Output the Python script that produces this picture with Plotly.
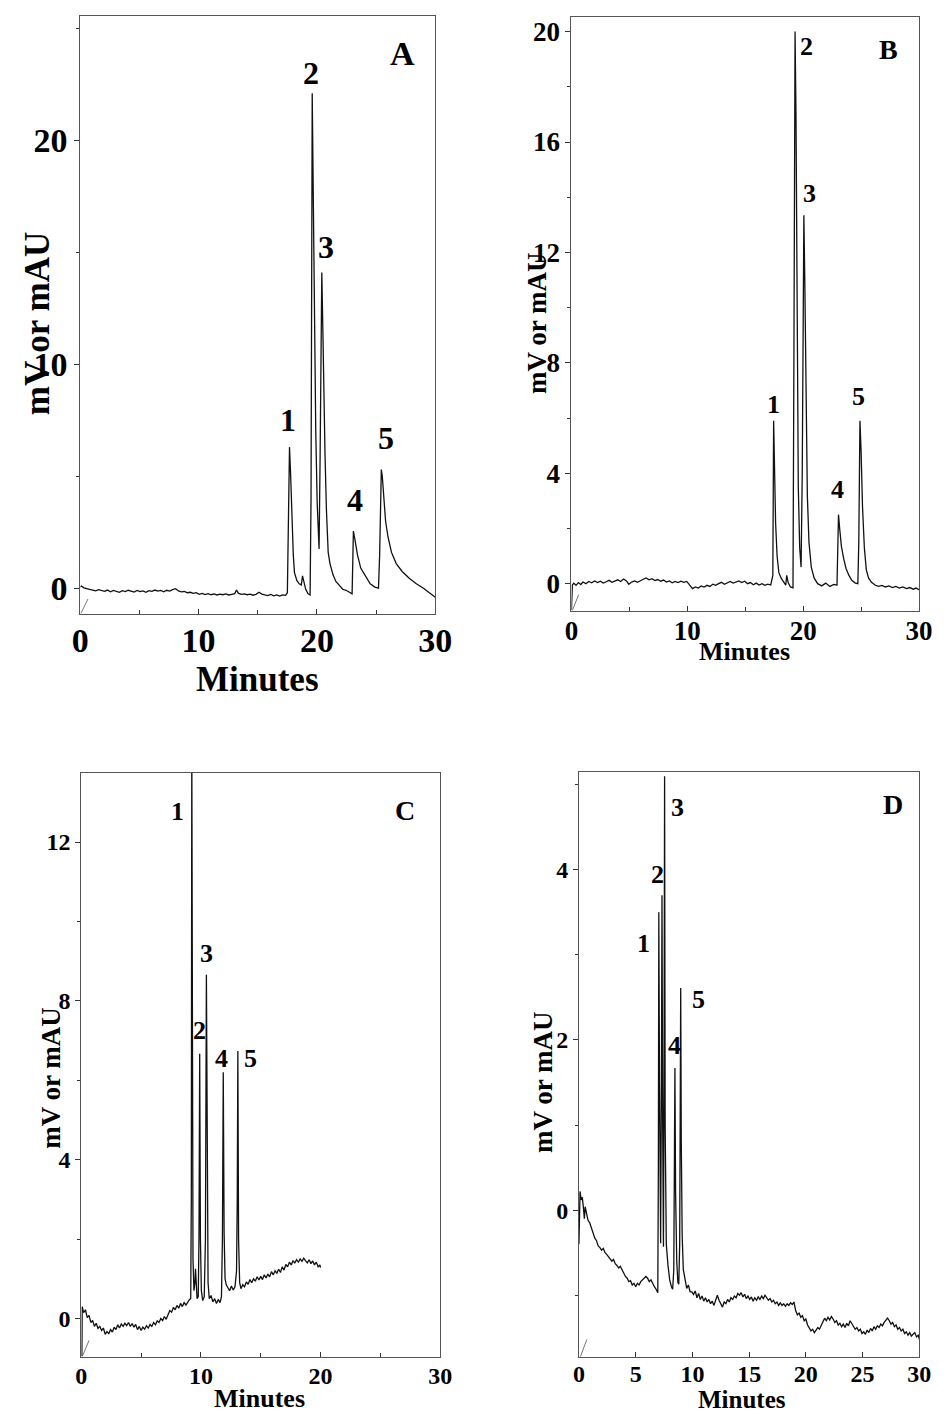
import plotly.graph_objects as go

# ------------------------------------------------------------------
# DATA
# ------------------------------------------------------------------
# Panel A
A_base_time = [0.0, 0.1, 0.3, 0.55, 0.8, 1.05, 1.3, 1.55, 1.8, 2.05,
               2.3, 2.55, 2.8, 3.05, 3.3, 3.55, 3.8, 4.05, 4.3, 4.55,
               4.8, 5.05, 5.3, 5.55, 5.8, 6.05, 6.3, 6.55, 6.8, 7.05,
               7.3, 7.55, 7.8, 8.05, 8.3, 8.55, 8.8, 9.05, 9.3, 9.55,
               9.8, 10.05, 10.3, 10.55, 10.8, 11.05, 11.3, 11.55, 11.8, 12.05,
               12.3, 12.55, 12.8, 13.05, 13.2, 13.35, 13.6, 13.85, 14.1, 14.35,
               14.6, 14.85, 15.1, 15.35, 15.6, 15.85, 16.1, 16.35, 16.6, 16.85,
               17.1, 17.35]
A_base_signal = [0.05, 0.1, 0.02, 0.0, -0.05, -0.08, -0.12, -0.06, -0.1, -0.14,
                 -0.08, -0.16, -0.1, -0.13, -0.18, -0.11, -0.15, -0.09, -0.14, -0.17,
                 -0.1, -0.15, -0.12, -0.18, -0.11, -0.14, -0.08, -0.13, -0.1, -0.16,
                 -0.09, -0.13, -0.06, -0.02, -0.12, -0.16, -0.14, -0.2, -0.18, -0.23,
                 -0.2, -0.27, -0.23, -0.28, -0.24, -0.29, -0.25, -0.3, -0.26, -0.29,
                 -0.25, -0.3, -0.27, -0.24, -0.08, -0.22, -0.27, -0.25, -0.29, -0.26,
                 -0.31, -0.27, -0.18, -0.26, -0.3, -0.33, -0.28, -0.34, -0.3, -0.35,
                 -0.3, -0.32]
A_peak_time = [17.5, 17.6, 17.68, 17.78, 17.88, 18.0, 18.1, 18.3, 18.5, 18.68,
               18.78, 18.9, 19.05, 19.25, 19.42, 19.5, 19.55, 19.6, 19.7, 19.8,
               19.9, 20.02, 20.18, 20.27, 20.35, 20.41, 20.5, 20.6, 20.68, 20.8,
               20.95, 21.1, 21.36, 21.6, 21.9, 22.2, 22.5, 22.8, 22.97, 23.03,
               23.08, 23.2, 23.42, 23.7, 24.1, 24.5, 24.9, 25.2, 25.3, 25.38,
               25.44, 25.52, 25.65, 25.8, 26.0, 26.3, 26.7, 27.2, 27.8, 28.4,
               29.0, 29.5, 30.0]
A_peak_signal = [-0.2, 3.5, 6.3, 5.0, 3.0, 1.5, 0.7, 0.35, 0.2, 0.15,
                 0.55, 0.3, -0.05, -0.25, -0.3, 4.0, 14.0, 22.1, 17.0, 11.5,
                 7.0, 3.8, 1.75, 6.0, 12.0, 14.1, 11.5, 8.0, 6.0, 3.5,
                 1.6, 1.1, 0.6, 0.3, 0.1, -0.05, -0.1, -0.2, -0.25, 1.2,
                 2.55, 2.2, 1.5, 0.9, 0.55, 0.2, 0.05, 0.0, 1.5, 4.5,
                 5.3, 5.0, 4.0, 3.0, 2.3, 1.6, 1.1, 0.75, 0.45, 0.2,
                 0.0, -0.2, -0.4]
A_mark_time = [0.05, 0.65]
A_mark_signal = [-1.12, -0.48]

# Panel B
B_base_time = [0.0, 0.08, 0.2, 0.4, 0.6, 0.8, 1.0, 1.25, 1.5, 1.75,
               2.0, 2.25, 2.5, 2.75, 3.0, 3.25, 3.5, 3.75, 4.0, 4.25,
               4.5, 4.75, 4.95, 5.2, 5.45, 5.7, 5.95, 6.2, 6.45, 6.7,
               6.95, 7.2, 7.45, 7.7, 7.95, 8.2, 8.45, 8.7, 8.95, 9.2,
               9.45, 9.7, 9.95, 10.2, 10.45, 10.7, 10.95, 11.2, 11.45, 11.7,
               11.95, 12.2, 12.45, 12.7, 12.95, 13.2, 13.45, 13.7, 13.95, 14.2,
               14.45, 14.7, 14.95, 15.2, 15.45, 15.7, 15.95, 16.2, 16.45, 16.7,
               16.95, 17.2]
B_base_signal = [-0.95, -0.05, 0.02, -0.06, 0.04, -0.03, 0.06, 0.0, 0.08, 0.03,
                 0.1, 0.04, 0.09, 0.02, 0.07, 0.12, 0.05, 0.1, 0.14, 0.08,
                 0.17, 0.1, -0.02, 0.06, 0.1, 0.05, 0.12, 0.16, 0.21, 0.14,
                 0.18, 0.11, 0.15, 0.09, 0.13, 0.06, 0.1, 0.03, 0.08, 0.04,
                 0.09, 0.05, 0.08, -0.05, -0.18, -0.12, -0.16, -0.08, -0.12, -0.06,
                 -0.1, -0.02, -0.06, 0.0, 0.05, -0.02, 0.04, 0.08, 0.02, 0.07,
                 0.1, 0.04, 0.09, 0.0, 0.04, -0.04, 0.02, -0.05, 0.0, -0.06,
                 -0.02, -0.05]
B_peak_time = [17.38, 17.45, 17.52, 17.62, 17.75, 17.9, 18.1, 18.35, 18.5, 18.58,
               18.7, 18.9, 19.12, 19.2, 19.3, 19.38, 19.47, 19.58, 19.7, 19.82,
               19.92, 20.0, 20.06, 20.14, 20.24, 20.36, 20.5, 20.7, 20.95, 21.25,
               21.6, 21.95, 22.3, 22.65, 22.92, 22.98, 23.05, 23.15, 23.3, 23.5,
               23.7, 23.95, 24.2, 24.5, 24.72, 24.8, 24.9, 25.0, 25.12, 25.28,
               25.45, 25.65, 25.9, 26.2, 26.5, 26.8, 27.1, 27.4, 27.7, 28.0,
               28.3, 28.6, 28.9, 29.2, 29.5, 29.75, 30.0]
B_peak_signal = [0.3, 5.9, 4.2, 2.2, 1.0, 0.4, 0.2, 0.05, -0.05, 0.3,
                 0.05, -0.12, -0.15, 8.0, 20.0, 17.0, 9.5, 3.5, 1.3, 0.6,
                 4.0, 11.0, 13.35, 11.0, 6.5, 3.2, 1.5, 0.6, 0.2, 0.0,
                 -0.08, 0.02, -0.1, -0.03, -0.05, 1.0, 2.5, 2.0, 1.35, 0.9,
                 0.55, 0.3, 0.12, 0.02, 0.0, 1.5, 5.9, 4.8, 2.8, 1.3,
                 0.5, 0.2, 0.05, -0.05, -0.1, -0.06, -0.12, -0.08, -0.14, -0.1,
                 -0.16, -0.12, -0.18, -0.14, -0.2, -0.16, -0.22]
B_mark_time = [0.08, 0.62]
B_mark_signal = [-0.97, -0.4]

# Panel C
C_base_time = [0.05, 0.08, 0.2, 0.35, 0.5, 0.65, 0.8, 0.95, 1.1, 1.25,
               1.4, 1.55, 1.7, 1.85, 2.0, 2.15, 2.3, 2.45, 2.6, 2.75,
               2.9, 3.05, 3.2, 3.35, 3.5, 3.65, 3.8, 3.95, 4.1, 4.25,
               4.4, 4.55, 4.7, 4.85, 5.0, 5.15, 5.3, 5.45, 5.6, 5.75,
               5.9, 6.05, 6.2, 6.35, 6.5, 6.65, 6.8, 6.95, 7.1, 7.25,
               7.4, 7.55, 7.7, 7.85, 8.0, 8.15, 8.3, 8.45, 8.6, 8.75,
               8.9, 9.05]
C_base_signal = [-0.95, 0.3, 0.15, 0.22, 0.02, 0.08, -0.1, -0.05, -0.2, -0.12,
                 -0.25, -0.2, -0.3, -0.24, -0.4, -0.33, -0.38, -0.28, -0.34, -0.22,
                 -0.28, -0.16, -0.24, -0.14, -0.2, -0.12, -0.18, -0.1, -0.2, -0.13,
                 -0.22, -0.15, -0.28, -0.2, -0.3, -0.22, -0.27, -0.18, -0.24, -0.15,
                 -0.2, -0.1, -0.16, -0.06, -0.1, 0.0, -0.05, 0.05, -0.02, 0.12,
                 0.2, 0.16, 0.28, 0.22, 0.33, 0.26, 0.38, 0.3, 0.4, 0.34,
                 0.42, 0.48]
C_peak_time = [9.15, 9.2, 9.24, 9.28, 9.34, 9.42, 9.5, 9.55, 9.6, 9.68,
               9.78, 9.84, 9.9, 9.96, 10.04, 10.15, 10.28, 10.38, 10.46, 10.52,
               10.6, 10.7, 10.85, 11.0, 11.15, 11.3, 11.45, 11.6, 11.72, 11.8,
               11.87, 11.94, 12.02, 12.12, 12.25, 12.4, 12.55, 12.7, 12.85, 12.98,
               13.04, 13.09, 13.15, 13.24, 13.35]
C_peak_signal = [0.5, 3.0, 14.5, 6.0, 1.5, 0.7, 0.9, 1.25, 0.8, 0.5,
                 0.55, 2.0, 6.67, 2.0, 0.7, 0.45, 0.55, 2.0, 8.66, 3.0,
                 0.9, 0.5, 0.58, 0.42, 0.5, 0.38, 0.48, 0.4, 0.55, 2.0,
                 6.2, 2.2, 1.0, 0.85, 0.78, 0.7, 0.82, 0.72, 0.8, 1.2,
                 3.0, 6.74, 2.0, 0.9, 0.75]
C_tail_time = [13.5, 13.65, 13.8, 13.95, 14.1, 14.25, 14.4, 14.55, 14.7, 14.85,
               15.0, 15.15, 15.3, 15.45, 15.6, 15.75, 15.9, 16.05, 16.2, 16.35,
               16.5, 16.65, 16.8, 16.95, 17.1, 17.25, 17.4, 17.55, 17.7, 17.85,
               18.0, 18.15, 18.3, 18.45, 18.6, 18.75, 18.9, 19.05, 19.2, 19.35,
               19.5, 19.65, 19.8, 19.95, 20.0]
C_tail_signal = [0.85, 0.8, 0.92, 0.86, 0.98, 0.9, 1.0, 0.94, 1.05, 0.97,
                 1.06, 0.98, 1.1, 1.02, 1.12, 1.05, 1.18, 1.1, 1.2, 1.14,
                 1.24, 1.16, 1.3, 1.22, 1.36, 1.3, 1.42, 1.35, 1.45, 1.4,
                 1.48, 1.42, 1.5, 1.44, 1.52, 1.45, 1.4, 1.48, 1.38, 1.45,
                 1.35, 1.42, 1.3, 1.35, 1.28]
C_mark_time = [0.1, 0.65]
C_mark_signal = [-0.95, -0.55]

# Panel D
D_base_time = [0.0, 0.04, 0.1, 0.2, 0.3, 0.4, 0.48, 0.55, 0.65, 0.8,
               0.95, 1.1, 1.25, 1.4, 1.55, 1.7, 1.85, 2.0, 2.15, 2.3,
               2.45, 2.6, 2.75, 2.9, 3.05, 3.2, 3.35, 3.5, 3.65, 3.8,
               3.95, 4.1, 4.25, 4.4, 4.55, 4.7, 4.85, 5.0, 5.15, 5.3,
               5.45, 5.6, 5.75, 5.9, 6.05, 6.2, 6.35, 6.5, 6.65, 6.8,
               6.95]
D_base_signal = [-0.4, -0.2, 0.22, 0.12, 0.15, 0.02, -0.1, 0.04, -0.02, -0.12,
                 -0.15, -0.22, -0.28, -0.33, -0.36, -0.42, -0.44, -0.47, -0.45, -0.5,
                 -0.52, -0.55, -0.57, -0.6, -0.58, -0.63, -0.65, -0.68, -0.66, -0.7,
                 -0.74, -0.78, -0.8, -0.84, -0.83, -0.88, -0.86, -0.9, -0.86, -0.88,
                 -0.84, -0.82, -0.8, -0.78, -0.8, -0.84, -0.82, -0.87, -0.9, -0.93,
                 -0.97]
D_peak_time = [7.0, 7.04, 7.1, 7.2, 7.27, 7.32, 7.38, 7.45, 7.5, 7.55,
               7.6, 7.7, 7.85, 8.0, 8.15, 8.26, 8.36, 8.42, 8.46, 8.52,
               8.62, 8.72, 8.8, 8.88, 8.94, 8.97, 9.02, 9.1, 9.2, 9.35,
               9.5, 9.65, 9.8]
D_peak_signal = [0.5, 3.5, 1.5, -0.39, 1.5, 3.7, 1.0, -0.43, 1.5, 5.1,
                 1.0, -0.4, -0.65, -0.82, -0.9, -0.93, -0.7, 0.3, 1.67, 0.2,
                 -0.6, -0.85, -0.87, -0.4, 1.2, 2.61, 0.8, -0.3, -0.7, -0.82,
                 -0.92, -0.88, -0.96]
D_tail_time = [9.95, 10.1, 10.25, 10.4, 10.55, 10.7, 10.85, 11.0, 11.15, 11.3,
               11.45, 11.6, 11.75, 11.9, 12.05, 12.2, 12.35, 12.5, 12.65, 12.8,
               12.95, 13.1, 13.25, 13.4, 13.55, 13.7, 13.85, 14.0, 14.15, 14.3,
               14.45, 14.6, 14.75, 14.9, 15.05, 15.2, 15.35, 15.5, 15.65, 15.8,
               15.95, 16.1, 16.25, 16.4, 16.55, 16.7, 16.85, 17.0, 17.15, 17.3,
               17.45, 17.6, 17.75, 17.9, 18.05, 18.2, 18.35, 18.5, 18.65, 18.8,
               18.95, 19.1, 19.25, 19.4, 19.55, 19.7, 19.85, 20.0, 20.15, 20.3,
               20.45, 20.6, 20.75, 20.9, 21.05, 21.2, 21.35, 21.5, 21.65, 21.8,
               21.95, 22.1, 22.25, 22.4, 22.55, 22.7, 22.85, 23.0, 23.15, 23.3,
               23.45, 23.6, 23.75, 23.9, 24.05, 24.2, 24.35, 24.5, 24.65, 24.8,
               24.95, 25.1, 25.25, 25.4, 25.55, 25.7, 25.85, 26.0, 26.15, 26.3,
               26.45, 26.6, 26.75, 26.9, 27.05, 27.2, 27.35, 27.5, 27.65, 27.8,
               27.95, 28.1, 28.25, 28.4, 28.55, 28.7, 28.85, 29.0, 29.15, 29.3,
               29.45, 29.6, 29.75, 29.9, 30.0]
D_tail_signal = [-0.96, -0.99, -0.95, -1.03, -0.98, -1.05, -1.01, -1.07, -1.03, -1.08,
                 -1.05, -1.1, -1.07, -1.12, -1.06, -1.0, -1.06, -1.1, -1.14, -1.08,
                 -1.1, -1.05, -1.08, -1.03, -1.05, -1.01, -1.03, -0.98, -1.0, -0.97,
                 -1.02, -0.99, -1.04, -1.01, -1.05, -1.02, -1.07, -1.03, -1.06, -1.02,
                 -1.05, -1.01, -1.04, -1.0, -1.03, -1.06, -1.04, -1.08, -1.06, -1.1,
                 -1.08, -1.12, -1.09, -1.12, -1.1, -1.13, -1.1, -1.12, -1.09, -1.11,
                 -1.08, -1.18, -1.23, -1.21, -1.26, -1.24, -1.3, -1.28, -1.35, -1.38,
                 -1.42, -1.4, -1.44, -1.41, -1.38, -1.4, -1.35, -1.31, -1.27, -1.3,
                 -1.26, -1.29, -1.25, -1.28, -1.32, -1.3, -1.35, -1.33, -1.37, -1.34,
                 -1.38, -1.33, -1.36, -1.3, -1.33, -1.36, -1.4, -1.38, -1.42, -1.4,
                 -1.45, -1.43, -1.46, -1.41, -1.44, -1.39, -1.42, -1.37, -1.4, -1.36,
                 -1.38, -1.34, -1.36, -1.32, -1.29, -1.27, -1.3, -1.34, -1.32, -1.37,
                 -1.35, -1.4, -1.38, -1.42, -1.4, -1.45, -1.43, -1.47, -1.44, -1.48,
                 -1.46, -1.44, -1.49, -1.47, -1.52]
D_mark_time = [0.14, 0.7]
D_mark_signal = [-1.72, -1.52]

# Axis ticks
x_ticks_abc = [0, 10, 20, 30]
x_minor_abc = [5, 15, 25]
x_ticks_d = [0, 5, 10, 15, 20, 25, 30]
y_ticks_a = [0, 10, 20]
y_minor_a = [5, 15, 25]
y_ticks_b = [0, 4, 8, 12, 16, 20]
y_minor_b = [2, 6, 10, 14, 18]
y_ticks_c = [0, 4, 8, 12]
y_minor_c = [2, 6, 10]
y_ticks_d = [0, 2, 4]
y_minor_d = [-1, 1, 3, 5]

peak_names = ["1", "2", "3", "4", "5"]

for a, b in [(A_base_time, A_base_signal), (A_peak_time, A_peak_signal),
             (B_base_time, B_base_signal), (B_peak_time, B_peak_signal),
             (C_base_time, C_base_signal), (C_peak_time, C_peak_signal),
             (C_tail_time, C_tail_signal), (D_base_time, D_base_signal),
             (D_peak_time, D_peak_signal), (D_tail_time, D_tail_signal)]:
    assert len(a) == len(b), (len(a), len(b))

# ------------------------------------------------------------------
# FIGURE
# ------------------------------------------------------------------
W, H = 948, 1414
FONT = "Liberation Serif"


def px(x, y):
    return x / W, 1 - y / H


def fnt(size):
    return dict(family=FONT, size=size, color="black", weight="bold")


fig = go.Figure()

series = {
    "A": (A_base_time + A_peak_time, A_base_signal + A_peak_signal, A_mark_time, A_mark_signal),
    "B": (B_base_time + B_peak_time, B_base_signal + B_peak_signal, B_mark_time, B_mark_signal),
    "C": (C_base_time + C_peak_time + C_tail_time,
          C_base_signal + C_peak_signal + C_tail_signal, C_mark_time, C_mark_signal),
    "D": (D_base_time + D_peak_time + D_tail_time,
          D_base_signal + D_peak_signal + D_tail_signal, D_mark_time, D_mark_signal),
}
axis_ids = {"A": ("x", "y"), "B": ("x2", "y2"), "C": ("x3", "y3"), "D": ("x4", "y4")}

for key, (t, s, mt, ms) in series.items():
    xa, ya = axis_ids[key]
    fig.add_trace(go.Scatter(x=t, y=s, mode="lines", xaxis=xa, yaxis=ya,
                             line=dict(color="#111111", width=1.3), hoverinfo="skip"))
    fig.add_trace(go.Scatter(x=mt, y=ms, mode="lines", xaxis=xa, yaxis=ya,
                             line=dict(color="#555555", width=0.8), hoverinfo="skip"))

# panel geometry in pixels: (left, right, top, bottom)
geom = {
    "A": (73.3, 438.3, 16.0, 614.0),
    "B": (578.3, 935.7, 16.7, 611.0),
    "C": (74.3, 443.3, 773.0, 1357.0),
    "D": (586.0, 936.0, 772.0, 1357.3),
}
yranges = {"A": [-1.15, 25.55], "B": [-0.99, 20.54], "C": [-0.97, 13.74], "D": [-1.73, 5.15]}
yticks = {"A": (y_ticks_a, y_minor_a), "B": (y_ticks_b, y_minor_b),
          "C": (y_ticks_c, y_minor_c), "D": (y_ticks_d, y_minor_d)}
xticks = {"A": (x_ticks_abc, x_minor_abc), "B": (x_ticks_abc, x_minor_abc),
          "C": (x_ticks_abc, x_minor_abc), "D": (x_ticks_d, [])}
tick_size = {"A": 34, "B": 27, "C": 24, "D": 24}
x_standoff = {"A": -4, "B": -4, "C": -3, "D": -5}

layout = dict(width=W, height=H, margin=dict(l=0, r=0, t=0, b=0),
              paper_bgcolor="white", plot_bgcolor="white", showlegend=False)

for key in "ABCD":
    l, r, t, b = geom[key]
    xa, ya = axis_ids[key]
    xname = "xaxis" if xa == "x" else "xaxis" + xa[1:]
    yname = "yaxis" if ya == "y" else "yaxis" + ya[1:]
    xt, xm = xticks[key]
    yt, ym = yticks[key]
    layout[xname] = dict(
        domain=[l / W, r / W], range=[0, 30], anchor=ya,
        tickvals=xt, ticktext=[str(v) for v in xt],
        ticks="inside", ticklen=5, tickcolor="#333", tickwidth=1,
        minor=dict(tickvals=xm, ticks="inside", ticklen=4, tickcolor="#333") if xm else dict(),
        tickfont=fnt(tick_size[key]), ticklabelstandoff=x_standoff[key],
        showline=True, mirror=True, linecolor="#555", linewidth=1,
        showgrid=False, zeroline=False, fixedrange=True)
    layout[yname] = dict(
        domain=[1 - b / H, 1 - t / H], range=yranges[key], anchor=xa,
        tickvals=yt, ticktext=[str(v) for v in yt],
        ticks="outside", ticklen=5, tickcolor="#333", tickwidth=1,
        minor=dict(tickvals=ym, ticks="outside", ticklen=3, tickcolor="#333"),
        tickfont=fnt(tick_size[key]),
        showline=True, mirror=True, linecolor="#555", linewidth=1,
        showgrid=False, zeroline=False, fixedrange=True)

fig.update_layout(**layout)

# text annotations: (text, x_px, y_px, size, angle)
texts = [
    # panel A
    ("A", 405, 53, 34, 0),
    (peak_names[1], 311, 73, 32, 0), (peak_names[2], 326, 247, 32, 0),
    (peak_names[0], 287, 420, 32, 0), (peak_names[3], 356, 500, 32, 0),
    (peak_names[4], 388, 438, 32, 0),
    ("Minutes", 255, 679, 35, 0), ("mV or mAU", 29, 324, 35, -90),
    # panel B
    ("B", 904, 49, 28, 0),
    (peak_names[1], 820, 47, 26, 0), (peak_names[2], 823, 194, 26, 0),
    (peak_names[0], 786, 404, 26, 0), (peak_names[3], 852, 490, 26, 0),
    (peak_names[4], 873, 396, 26, 0),
    ("Minutes", 756, 651, 26, 0), ("mV or mAU", 543, 323, 27, -90),
    # panel C
    ("C", 407, 810, 28, 0),
    (peak_names[0], 173, 812, 26, 0), (peak_names[2], 203, 953, 26, 0),
    (peak_names[1], 196, 1030, 26, 0), (peak_names[3], 218, 1058, 26, 0),
    (peak_names[4], 248, 1058, 26, 0),
    ("Minutes", 258, 1398, 26, 0), ("mV or mAU", 43, 1078, 27, -90),
    # panel D
    ("D", 909, 804, 28, 0),
    (peak_names[2], 687, 807, 26, 0), (peak_names[1], 667, 874, 26, 0),
    (peak_names[0], 652, 944, 26, 0), (peak_names[4], 709, 999, 26, 0),
    (peak_names[3], 684, 1045, 26, 0),
    ("Minutes", 754, 1399, 25, 0), ("mV or mAU", 549, 1082, 27, -90),
]
for text, x, y, size, ang in texts:
    xp, yp = px(x, y)
    fig.add_annotation(text=text, x=xp, y=yp, xref="paper", yref="paper",
                       xanchor="center", yanchor="middle", showarrow=False,
                       textangle=ang, font=fnt(size))

fig.write_html("out.html")
